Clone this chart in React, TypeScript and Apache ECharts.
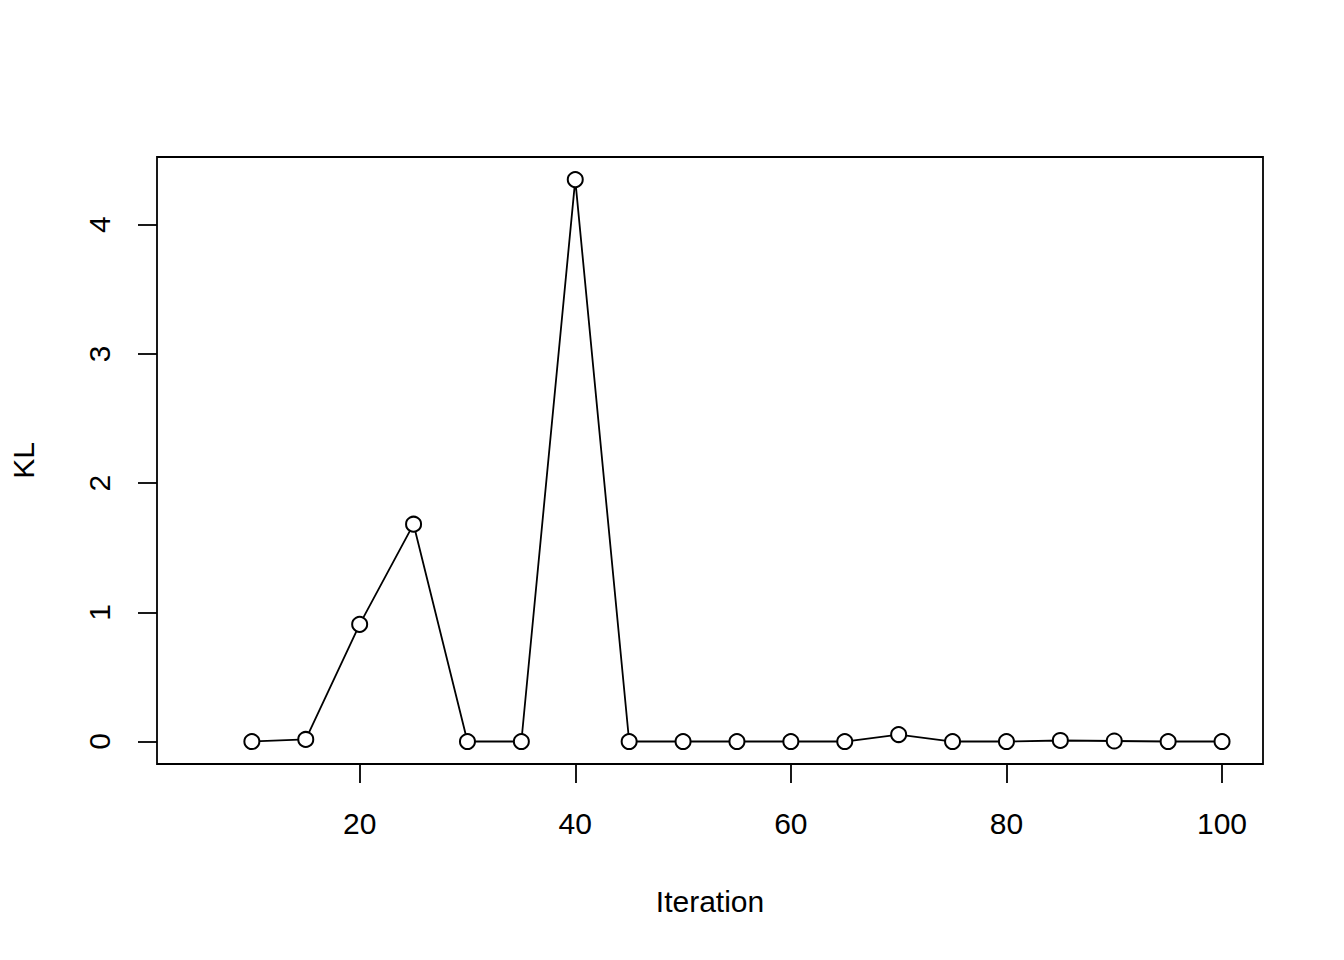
import React, { useEffect, useRef } from "react";
import * as echarts from "echarts";

const iterations = [10, 15, 20, 25, 30, 35, 40, 45, 50, 55, 60, 65, 70, 75, 80, 85, 90, 95, 100];
const klValues = [0, 0.016, 0.907, 1.682, 0, 0, 4.349, 0, 0, 0, 0, 0, 0.054, 0, 0, 0.008, 0.004, 0, 0];
const xTicks = [20, 40, 60, 80, 100];
const yTicks = [0, 1, 2, 3, 4];
const xTitle = "Iteration";
const yTitle = "KL";

const FONT = "'Liberation Sans', Arial, Helvetica, sans-serif";
const FS = 30;

export default function App() {
  const ref = useRef<HTMLDivElement>(null);
  useEffect(() => {
    if (!ref.current) return;
    const chart = echarts.init(ref.current, null, { renderer: "svg" });
    chart.setOption({
      animation: false,
      backgroundColor: "#ffffff",
      grid: {
        left: 157,
        top: 157,
        width: 1106,
        height: 607,
        show: true,
        borderColor: "#000",
        borderWidth: 1.8,
        backgroundColor: "transparent",
      },
      xAxis: {
        type: "value",
        min: 1.2,
        max: 103.8,
        axisLine: { show: false, onZero: false },
        splitLine: { show: false },
        axisTick: {
          show: true,
          inside: false,
          length: 19,
          customValues: xTicks,
          lineStyle: { color: "#000", width: 1.8 },
        },
        axisLabel: {
          customValues: xTicks,
          margin: 44,
          color: "#000",
          fontSize: FS,
          fontFamily: FONT,
        },
      },
      yAxis: {
        type: "value",
        min: -0.174,
        max: 4.524,
        axisLine: { show: false, onZero: false },
        splitLine: { show: false },
        axisTick: {
          show: true,
          inside: false,
          length: 19,
          customValues: yTicks,
          lineStyle: { color: "#000", width: 1.8 },
        },
        axisLabel: {
          customValues: yTicks,
          rotate: 90,
          margin: 43,
          color: "#000",
          fontSize: FS,
          fontFamily: FONT,
        },
      },
      graphic: [
        {
          type: "text",
          x: 710,
          y: 901,
          style: {
            text: xTitle,
            fill: "#000",
            font: `${FS}px ${FONT}`,
            textAlign: "center",
            textVerticalAlign: "middle",
          },
        },
        {
          type: "text",
          x: 23.5,
          y: 460.5,
          rotation: Math.PI / 2,
          style: {
            text: yTitle,
            fill: "#000",
            font: `${FS}px ${FONT}`,
            textAlign: "center",
            textVerticalAlign: "middle",
          },
        },
      ],
      series: [
        {
          type: "line",
          data: iterations.map((x, i) => [x, klValues[i]]),
          symbol: "emptyCircle",
          symbolSize: 15,
          lineStyle: { color: "#000", width: 1.8 },
          itemStyle: { color: "#000", borderWidth: 1.8 },
          z: 3,
        },
      ],
    });
    return () => chart.dispose();
  }, []);
  return (
    <div
      ref={ref}
      style={{ position: "fixed", left: 0, top: 0, width: 1344, height: 960, background: "#fff" }}
    />
  );
}
